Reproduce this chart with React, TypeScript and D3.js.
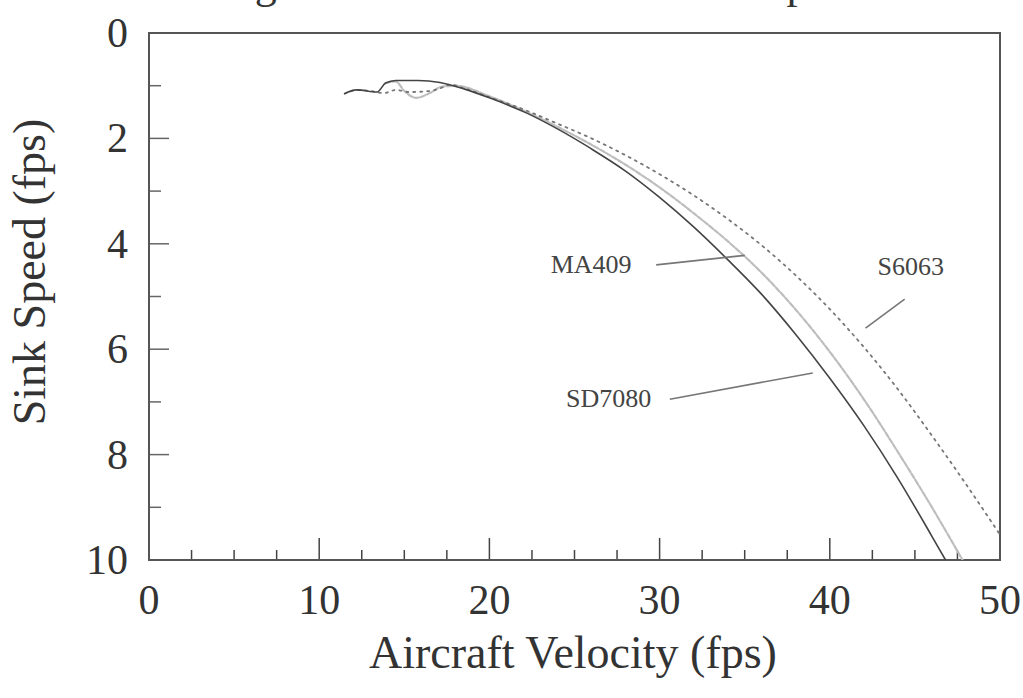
import React, { useEffect, useRef } from 'react';
import * as d3 from 'd3';

// sink speed polars
const sd7080V = [11.5, 12.2, 13.4, 13.9, 14.5, 15.8, 17.1, 18.5, 20, 22.2, 24, 26, 28, 30, 32, 34, 36, 38, 40, 42, 44, 46, 46.8];
const sd7080S = [1.15, 1.08, 1.12, 0.95, 0.9, 0.9, 0.94, 1.06, 1.23, 1.52, 1.82, 2.2, 2.62, 3.12, 3.68, 4.3, 4.96, 5.72, 6.55, 7.45, 8.45, 9.55, 10];

const ma409V = [13.9, 14.5, 15.0, 15.7, 16.5, 17.2, 18, 20, 22, 24, 26, 28, 30, 32, 34, 36, 38, 40, 42, 44, 46, 47.8];
const ma409S = [0.95, 0.92, 1.1, 1.23, 1.14, 1.02, 1.0, 1.2, 1.47, 1.78, 2.12, 2.5, 2.93, 3.42, 3.95, 4.55, 5.25, 6.05, 6.95, 7.95, 9.0, 10];

const s6063V = [11.5, 12.2, 13.0, 13.8, 14.5, 15.3, 16.5, 17.1, 17.7, 18.5, 20, 22, 24, 26, 28, 30, 32, 34, 36, 38, 40, 42, 44, 46, 48, 50];
const s6063S = [1.15, 1.08, 1.1, 1.14, 1.08, 1.12, 1.1, 1.05, 0.98, 1.05, 1.22, 1.45, 1.72, 2.0, 2.32, 2.68, 3.08, 3.53, 4.03, 4.6, 5.24, 5.96, 6.76, 7.64, 8.56, 9.52];

const xTicks = [0, 10, 20, 30, 40, 50];
const yTicks = [0, 2, 4, 6, 8, 10];

const FONT = '"Liberation Serif", "DejaVu Serif", serif';

const App = () => {
  const ref = useRef<SVGSVGElement>(null);

  useEffect(() => {
    const svg = d3.select(ref.current);
    svg.selectAll('*').remove();

    const left = 149, right = 1000, top = 33, bottom = 560;

    const x = d3.scaleLinear().domain([0, 50]).range([left, right]);
    const y = d3.scaleLinear().domain([0, 10]).range([top, bottom]);

    svg.append('defs').append('clipPath').attr('id', 'plot-clip')
      .append('rect')
      .attr('x', left).attr('y', top)
      .attr('width', right - left).attr('height', bottom - top);

    // title, mostly cut off by the top of the scan
    svg.append('text')
      .attr('x', 567).attr('y', -2)
      .attr('text-anchor', 'middle')
      .attr('font-family', FONT).attr('font-size', 44).attr('fill', '#333')
      .text('Figure 5: Airfoil Sink Rate Comparison');

    // minor ticks
    const xMinor = d3.range(0, 50.01, 2.5).filter(v => v > 0 && v < 50);
    svg.selectAll('.xtick').data(xMinor).enter().append('line')
      .attr('x1', d => x(d)).attr('x2', d => x(d))
      .attr('y1', y(10))
      .attr('y2', d => y(10) - (d % 10 === 0 ? 22 : 10))
      .attr('stroke', '#444').attr('stroke-width', 1.5);

    const yMinor = d3.range(1, 10);
    svg.selectAll('.ytick').data(yMinor).enter().append('line')
      .attr('x1', x(0)).attr('x2', d => x(0) + (d % 2 === 0 ? 20 : 12))
      .attr('y1', d => y(d)).attr('y2', d => y(d))
      .attr('stroke', '#666').attr('stroke-width', 1.5);

    // frame
    svg.append('rect')
      .attr('x', left).attr('y', top)
      .attr('width', right - left).attr('height', bottom - top)
      .attr('fill', 'none').attr('stroke', '#555').attr('stroke-width', 2);

    svg.selectAll('.xlab').data(xTicks).enter().append('text')
      .attr('x', d => x(d)).attr('y', 614)
      .attr('text-anchor', 'middle')
      .attr('font-family', FONT).attr('font-size', 42).attr('fill', '#333')
      .text(d => d);

    svg.selectAll('.ylab').data(yTicks).enter().append('text')
      .attr('x', 128).attr('y', d => y(d) + 14)
      .attr('text-anchor', 'end')
      .attr('font-family', FONT).attr('font-size', 42).attr('fill', '#333')
      .text(d => d);

    svg.append('text')
      .attr('x', 573).attr('y', 668)
      .attr('text-anchor', 'middle')
      .attr('font-family', FONT).attr('font-size', 46).attr('fill', '#333')
      .text('Aircraft Velocity (fps)');

    svg.append('text')
      .attr('transform', 'translate(45,272) rotate(-90)')
      .attr('text-anchor', 'middle')
      .attr('font-family', FONT).attr('font-size', 46).attr('fill', '#333')
      .text('Sink Speed (fps)');

    const line = d3.line<[number, number]>()
      .x(d => x(d[0]))
      .y(d => y(d[1]))
      .curve(d3.curveMonotoneX);

    const g = svg.append('g').attr('clip-path', 'url(#plot-clip)');

    const series = [
      { v: ma409V, s: ma409S, color: '#bdbdbd', width: 2.2, dash: '5,2' },
      { v: s6063V, s: s6063S, color: '#777', width: 1.8, dash: '2,5' },
      { v: sd7080V, s: sd7080S, color: '#444', width: 1.6, dash: null },
    ];

    series.forEach(sr => {
      const pts = sr.v.map((v, i) => [v, sr.s[i]] as [number, number]);
      g.append('path')
        .datum(pts)
        .attr('fill', 'none')
        .attr('stroke', sr.color)
        .attr('stroke-width', sr.width)
        .attr('stroke-dasharray', sr.dash)
        .attr('stroke-linecap', 'round')
        .attr('d', line);
    });

    // curve labels with leader lines (positions in data units)
    const labels = [
      { name: 'MA409', tx: 23.6, ty: 4.55, lx1: 29.8, ly1: 4.4, lx2: 35.0, ly2: 4.22 },
      { name: 'S6063', tx: 42.8, ty: 4.6, lx1: 44.4, ly1: 5.05, lx2: 42.1, ly2: 5.6 },
      { name: 'SD7080', tx: 24.5, ty: 7.1, lx1: 30.6, ly1: 6.95, lx2: 39.0, ly2: 6.45 },
    ];

    labels.forEach(l => {
      svg.append('text')
        .attr('x', x(l.tx)).attr('y', y(l.ty))
        .attr('font-family', FONT).attr('font-size', 26).attr('fill', '#444')
        .text(l.name);
      svg.append('line')
        .attr('x1', x(l.lx1)).attr('y1', y(l.ly1))
        .attr('x2', x(l.lx2)).attr('y2', y(l.ly2))
        .attr('stroke', '#777').attr('stroke-width', 1.6);
    });
  }, []);

  return (
    <svg ref={ref} width={1023} height={698}
      style={{ position: 'absolute', left: 0, top: 0, background: '#fff' }} />
  );
};

export default App;
